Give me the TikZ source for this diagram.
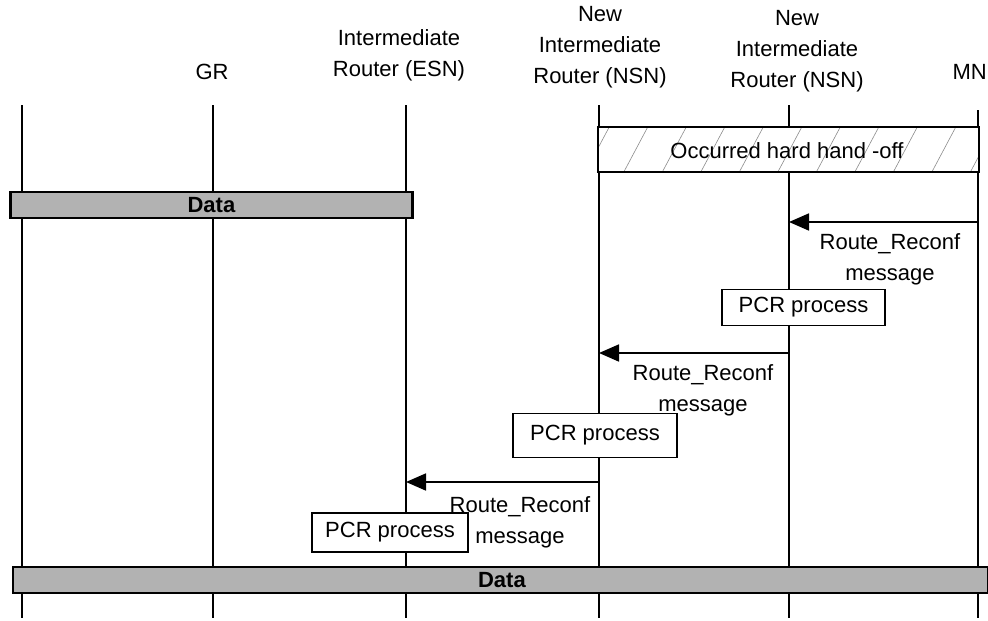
\documentclass[tikz,border=0pt]{standalone}
\usepackage{fontspec}
\setmainfont{Liberation Sans}
\usetikzlibrary{arrows.meta,patterns.meta}
\begin{document}
\begin{tikzpicture}[x=1pt,y=-1pt,
  every node/.style={font=\fontsize{22}{31}\selectfont, inner sep=0pt},
  lifeline/.style={line width=1.3pt},
  databar/.style={draw, line width=2.2pt, fill=black!30},
  hatchbox/.style={draw, line width=1.2pt, preaction={fill=white},
    pattern={Lines[angle=62,distance=34pt,line width=0.6pt]}, pattern color=black!45},
  pcrbox/.style={draw, line width=1.3pt, fill=white},
  msg/.style={line width=1.8pt, -{Triangle[length=20pt,width=17pt]}},
  lbl/.style={align=center},
]
\useasboundingbox (0,0) rectangle (988,621);

% header labels
\node (hGR) at (212,72) {GR};
\node[lbl] (hESN) at (399,55) {Intermediate\\Router (ESN)};
\node[lbl] (hNSN1) at (600,47) {New\\Intermediate\\Router (NSN)};
\node[lbl] (hNSN2) at (797,51) {New\\Intermediate\\Router (NSN)};
\node[anchor=east] (hMN) at (987,72) {MN};

% lifelines
\foreach \n/\x/\t in {a/22/105, gr/213/105, esn/406/105, nsn1/599/105, nsn2/789/105, mn/978/110}{
  \coordinate (\n top) at (\x,\t);
  \coordinate (\n bot) at (\x,618);
  \draw[lifeline] (\n top) -- (\n bot);
}

% hard hand-off box
\node[hatchbox, minimum width=381pt, minimum height=45pt] (hho) at (788.5,149.5) {};
\node (hhotext) at (787,151) {Occurred hard hand -off};

% first data bar
\node[databar, minimum width=402pt, minimum height=26pt] (data1) at (211.5,205) {\textbf{Data}};

% messages
\coordinate (m1s) at (978,222);
\coordinate (m1e) at (789,222);
\draw[msg] (m1s) -- (m1e);
\node[lbl] (l1) at (890,259) {Route\_Reconf\\message};
\node[pcrbox, minimum width=163pt, minimum height=36pt] (pcr1) at (803.5,307.5) {PCR process};

\coordinate (m2s) at (789,353);
\coordinate (m2e) at (599,353);
\draw[msg] (m2s) -- (m2e);
\node[lbl] (l2) at (703,390) {Route\_Reconf\\message};
\node[pcrbox, minimum width=164pt, minimum height=44pt] (pcr2) at (595,435.5) {PCR process};

\coordinate (m3s) at (599,482);
\coordinate (m3e) at (406,482);
\draw[msg] (m3s) -- (m3e);
\node[lbl] (l3) at (520,522) {Route\_Reconf\\message};
\node[pcrbox, minimum width=156pt, minimum height=39pt] (pcr3) at (390,532.5) {PCR process};

% second data bar
\node[databar, minimum width=975pt, minimum height=26pt] (data2) at (500.5,580) {};
\node (data2text) at (502,580) {\textbf{Data}};
\end{tikzpicture}
\end{document}
